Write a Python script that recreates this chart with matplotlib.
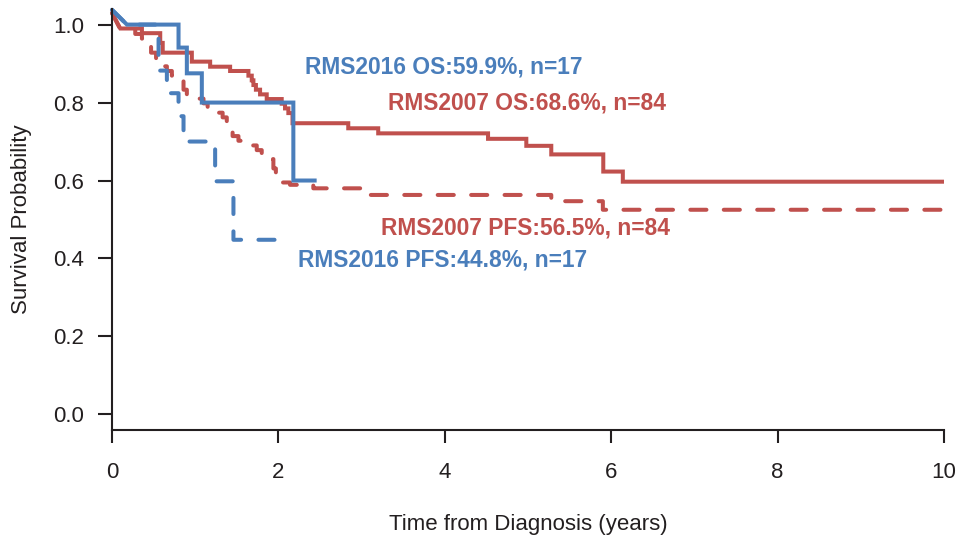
import matplotlib
matplotlib.use('Agg')
import matplotlib.pyplot as plt

plt.rcParams['font.family'] = ['Liberation Sans', 'DejaVu Sans']

BLUE = '#4a7ebb'
RED = '#c0504d'

# RMS2016 (n=17)
os16_start = 1.038
os16_t = [0.18, 0.80, 0.90, 1.08, 2.18]
os16_s = [1.000, 0.941, 0.875, 0.800, 0.600]
os16_end = 2.46

pfs16_start = 1.038
pfs16_t = [0.18, 0.56, 0.66, 0.80, 0.86, 1.24, 1.46]
pfs16_s = [1.000, 0.882, 0.824, 0.765, 0.700, 0.598, 0.448]
pfs16_end = 2.12

# RMS2007 (n=84)
os07_start = 1.03
os07_t = [0.10, 0.36, 0.58, 0.61, 0.96, 1.18, 1.42, 1.64, 1.68, 1.70, 1.73,
          1.78, 1.86, 2.04, 2.08, 2.12, 2.17, 2.84, 3.20, 4.52, 4.98, 5.28,
          5.905, 6.14]
os07_s = [0.990, 0.978, 0.953, 0.928, 0.905, 0.892, 0.881, 0.869, 0.857,
          0.845, 0.833, 0.821, 0.809, 0.797, 0.785, 0.773, 0.747, 0.734,
          0.721, 0.707, 0.689, 0.667, 0.623, 0.597]
os07_end = 10

pfs07_start = 1.03
pfs07_t = [0.10, 0.28, 0.36, 0.42, 0.47, 0.53, 0.57, 0.66, 0.72, 0.76, 0.86,
           0.90, 0.94, 1.10, 1.15, 1.18, 1.33, 1.38, 1.42, 1.45, 1.52, 1.60,
           1.74, 1.80, 1.87, 1.94, 1.97, 2.00, 2.14, 2.42, 3.05, 5.28, 5.90]
pfs07_s = [0.988, 0.976, 0.964, 0.952, 0.928, 0.905, 0.893, 0.881, 0.869,
           0.857, 0.833, 0.821, 0.810, 0.798, 0.786, 0.774, 0.762, 0.750,
           0.738, 0.714, 0.702, 0.690, 0.678, 0.667, 0.655, 0.631, 0.607,
           0.595, 0.589, 0.580, 0.563, 0.547, 0.525]
pfs07_end = 10

labels = ['RMS2016 OS:59.9%, n=17', 'RMS2007 OS:68.6%, n=84',
          'RMS2007 PFS:56.5%, n=84', 'RMS2016 PFS:44.8%, n=17']


def km_path(start, times, surv, end):
    xs = [0, times[0]]
    ys = [start, surv[0]]
    for i in range(1, len(times)):
        xs += [times[i], times[i]]
        ys += [surv[i - 1], surv[i]]
    xs.append(end)
    ys.append(surv[-1])
    return xs, ys


fig = plt.figure(figsize=(9.57, 5.39), dpi=100)
ax = fig.add_axes([0.117, 0.2022, 0.8694, 0.7811])

dash = (0, (4, 4.3))
lw = 2.9
curves = [
    (pfs07_start, pfs07_t, pfs07_s, pfs07_end, RED, dash),
    (os07_start, os07_t, os07_s, os07_end, RED, '-'),
    (pfs16_start, pfs16_t, pfs16_s, pfs16_end, BLUE, dash),
    (os16_start, os16_t, os16_s, os16_end, BLUE, '-'),
]
for start, t, s, end, col, ls in curves:
    xs, ys = km_path(start, t, s, end)
    ax.plot(xs, ys, color=col, lw=lw, ls=ls, dash_capstyle='round',
            solid_capstyle='butt', solid_joinstyle='miter', clip_on=False)

ax.text(2.32, 0.892, labels[0], color=BLUE, fontsize=16.4, fontweight='bold', va='center')
ax.text(3.32, 0.80, labels[1], color=RED, fontsize=16.4, fontweight='bold', va='center')
ax.text(3.23, 0.479, labels[2], color=RED, fontsize=16.4, fontweight='bold', va='center')
ax.text(2.24, 0.397, labels[3], color=BLUE, fontsize=16.4, fontweight='bold', va='center')

ax.set_xlim(0, 10)
ax.set_ylim(-0.04, 1.04)
ax.set_xticks([0, 2, 4, 6, 8, 10])
ax.set_yticks([0.0, 0.2, 0.4, 0.6, 0.8, 1.0])
ax.set_yticklabels(['0.0', '0.2', '0.4', '0.6', '0.8', '1.0'])

for side in ['top', 'right']:
    ax.spines[side].set_visible(False)
for side in ['left', 'bottom']:
    ax.spines[side].set_linewidth(1.5)
    ax.spines[side].set_color('#231f20')

ax.tick_params(axis='x', direction='out', length=9, width=1.5, pad=14,
               labelsize=16, color='#231f20', labelcolor='#231f20')
ax.tick_params(axis='y', direction='out', length=10, width=1.5, pad=10,
               labelsize=16, color='#231f20', labelcolor='#231f20')

ax.set_xlabel('Time from Diagnosis (years)', fontsize=16, labelpad=22, color='#231f20')
ax.set_ylabel('Survival Probability', fontsize=16, labelpad=15, color='#231f20')

fig.savefig('out.png', dpi=100)
